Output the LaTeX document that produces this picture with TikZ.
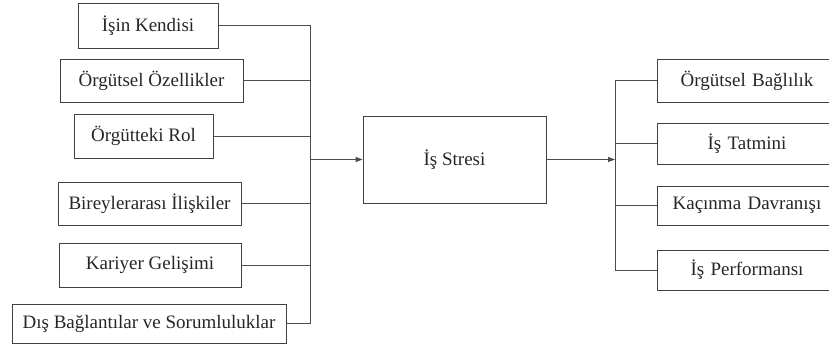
\documentclass[tikz,border=0pt]{standalone}
\usepackage{fontspec}
\setmainfont{Liberation Serif}
\newfontfamily\tnrfont{Liberation Serif}
\usetikzlibrary{arrows.meta}
\begin{document}
\begin{tikzpicture}[x=1pt,y=-1pt,
  box/.style={draw=black!75,line width=0.9pt,rectangle,inner sep=0pt,
    font=\tnrfont\fontsize{19}{22}\selectfont,text=black!85},
  conn/.style={draw=black!70,line width=0.9pt},
  arr/.style={conn,-{Triangle[length=7pt,width=5pt]}}]
\useasboundingbox (0,0) rectangle (829,345);
\clip (0,0) rectangle (829,345);
% left boxes
\node[box,minimum width=140pt,minimum height=45pt] (l1) at (148,25.5) {İşin Kendisi};
\node[box,minimum width=183pt,minimum height=43pt] (l2) at (151.5,80.5) {Örgütsel Özellikler};
\node[box,minimum width=139pt,minimum height=44pt] (l3) at (143.5,136) {Örgütteki Rol};
\node[box,minimum width=183pt,minimum height=43pt] (l4) at (149.5,203.5) {Bireylerarası İlişkiler};
\node[box,minimum width=182pt,minimum height=44pt] (l5) at (150,265) {Kariyer Gelişimi};
\node[box,minimum width=274pt,minimum height=39pt] (l6) at (149,323.5) {Dış Bağlantılar ve Sorumluluklar};
% center
\node[box,minimum width=183pt,minimum height=87pt] (c) at (454.5,159.5) {İş Stresi};
% right boxes
\node[box,minimum width=180pt,minimum height=43pt,text width=170pt,align=center] (r1) at (747,80.5) {Örgütsel Bağlılık};
\node[box,minimum width=180pt,minimum height=41pt,text width=170pt,align=center] (r2) at (747,143.5) {İş Tatmini};
\node[box,minimum width=180pt,minimum height=39pt,text width=170pt,align=center] (r3) at (747,205.5) {Kaçınma Davranışı};
\node[box,minimum width=180pt,minimum height=40pt,text width=170pt,align=center] (r4) at (747,270) {İş Performansı};
% bus coordinates
\coordinate (bl1) at (310,25.5);
\coordinate (bl6) at (310,323.5);
\coordinate (bin) at (310,159.5);
\coordinate (br1) at (615,80.5);
\coordinate (br4) at (615,270);
\coordinate (bout) at (615,159.5);
% left connectors
\foreach \n in {l1,l2,l3,l4,l5,l6}{
  \draw[conn] (\n.east) -- (\n.east -| bl1);
}
\draw[conn] (bl1) -- (bl6);
\draw[arr] (bin) -- (c.west);
\draw[arr] (c.east) -- (bout);
\draw[conn] (br1) -- (br4);
\foreach \n in {r1,r2,r3,r4}{
  \draw[conn] (\n.west -| br1) -- (\n.west);
}
\end{tikzpicture}
\end{document}
